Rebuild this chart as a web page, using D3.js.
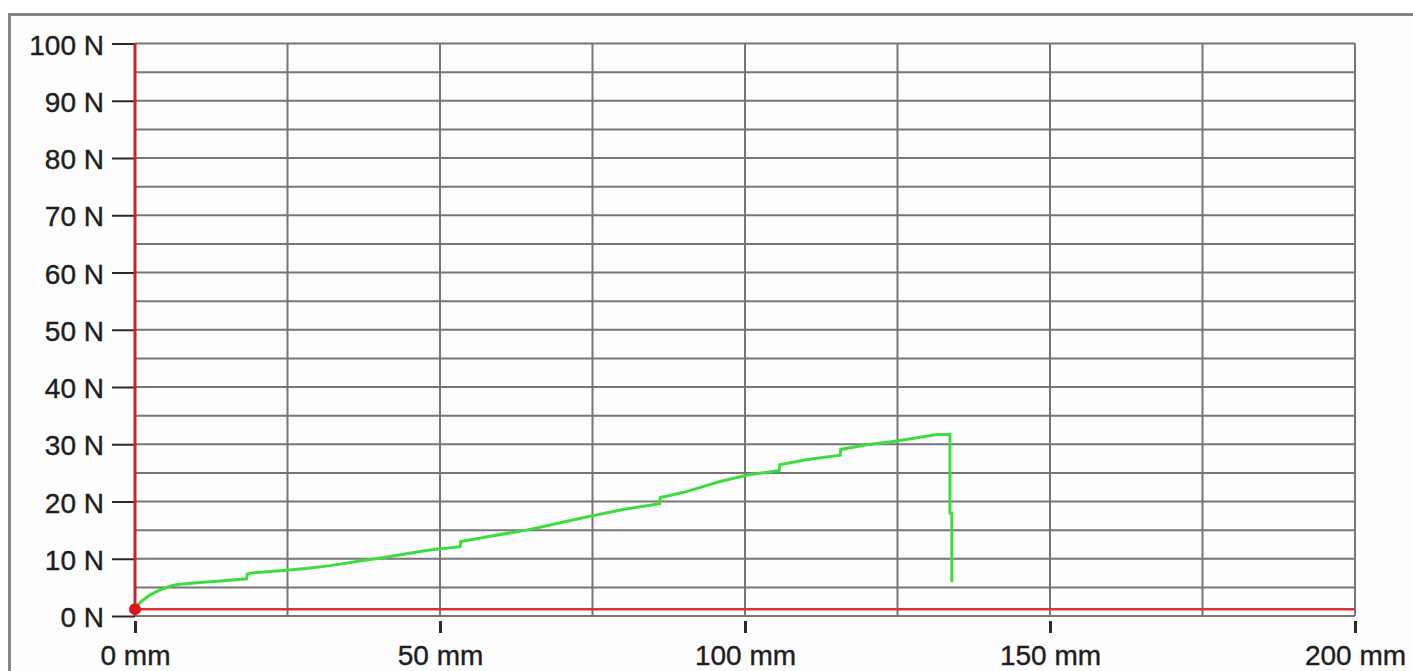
<!DOCTYPE html>
<html>
<head>
<script src="https://cdn.jsdelivr.net/npm/d3@7"></script>
<style type="text/css">
	body { margin: 0; background: #ffffff; overflow: hidden; }
	text { font-family: "Liberation Sans", Arial, sans-serif; fill: #1e1e1e; }
</style>
</head>
<body>
<script>

// force vs. travel readings (mm, N)
var distance = [0, 1, 2.5, 4, 5.7, 7, 10.1, 14, 18.3, 18.4, 19.1, 24.8, 28, 32, 37.4, 40, 44, 48,
	53.3, 53.4, 58, 64.2, 69, 74, 80, 86, 86.1, 90, 95.9, 100.8, 105.6, 105.7, 110, 115.6, 115.7,
	120, 124.3, 128, 131.4, 133.6, 133.6, 133.9, 133.9];
var force = [1.3, 2.5, 3.7, 4.5, 5.2, 5.5, 5.8, 6.1, 6.5, 7.3, 7.5, 8.0, 8.3, 8.8, 9.7, 10.1, 10.8, 11.5,
	12.1, 13.0, 13.9, 15.0, 16.1, 17.3, 18.6, 19.6, 20.7, 21.6, 23.5, 24.7, 25.4, 26.4, 27.3, 28.1, 29.1,
	29.9, 30.5, 31.1, 31.7, 31.7, 18.0, 18.0, 5.9];
var baseline = 1.2;

var yTicks = [0, 10, 20, 30, 40, 50, 60, 70, 80, 90, 100];
var yGrid = d3.range(0, 101, 5);
var xTicks = [0, 50, 100, 150, 200];
var xGrid = d3.range(0, 201, 25);

var points = distance.map(function (d, i) { return [d, force[i]]; });

var canvas = d3.select("body").append("svg")
	.attr("width", 1413)
	.attr("height", 671);

// window frame
canvas.append("rect")
	.attr("x", 9.5)
	.attr("y", 14.5)
	.attr("width", 1440)
	.attr("height", 700)
	.attr("fill", "#fdfdfd")
	.attr("stroke", "#858585")
	.attr("stroke-width", 3);

var x = d3.scaleLinear().domain([0, 200]).range([135, 1355]);
var y = d3.scaleLinear().domain([0, 100]).range([616, 43.5]);

// grid
canvas.append("g").selectAll("line")
	.data(yGrid)
	.enter()
	.append("line")
	.attr("x1", x(0)).attr("x2", x(200))
	.attr("y1", function (d) { return y(d); })
	.attr("y2", function (d) { return y(d); })
	.attr("stroke", "#767676")
	.attr("stroke-width", 2);

canvas.append("g").selectAll("line")
	.data(xGrid)
	.enter()
	.append("line")
	.attr("x1", function (d) { return x(d); })
	.attr("x2", function (d) { return x(d); })
	.attr("y1", y(100)).attr("y2", y(0))
	.attr("stroke", "#767676")
	.attr("stroke-width", 2);

// axes
var yAxis = d3.axisLeft(y).tickValues(yTicks).tickSize(23).tickPadding(8)
	.tickFormat(function (d) { return d + " N"; });
var gy = canvas.append("g")
	.attr("transform", "translate(" + x(0) + ",0)")
	.call(yAxis);
gy.select(".domain").remove();
gy.selectAll("line").attr("stroke", "#2a2a2a").attr("stroke-width", 2);
gy.selectAll("text")
	.attr("font-size", 28)
	.attr("dy", "0.38em")
	.attr("fill", "#1e1e1e")
	.attr("stroke", "#1e1e1e")
	.attr("stroke-width", 0.4);

var xAxis = d3.axisBottom(x).tickValues(xTicks).tickSize(17).tickPadding(0)
	.tickFormat(function (d) { return d + " mm"; });
var gx = canvas.append("g")
	.attr("transform", "translate(0," + y(0) + ")")
	.call(xAxis);
gx.select(".domain").remove();
gx.selectAll("line").attr("y1", 5).attr("stroke", "#2a2a2a").attr("stroke-width", 3);
gx.selectAll("text")
	.attr("font-size", 28)
	.attr("y", 49)
	.attr("dy", 0)
	.attr("fill", "#1e1e1e")
	.attr("stroke", "#1e1e1e")
	.attr("stroke-width", 0.4);

// red reference lines
canvas.append("line")
	.attr("x1", x(0)).attr("x2", x(200))
	.attr("y1", y(baseline)).attr("y2", y(baseline))
	.attr("stroke", "#d6343c")
	.attr("stroke-width", 2.5);

canvas.append("line")
	.attr("x1", x(0)).attr("x2", x(0))
	.attr("y1", y(100)).attr("y2", y(0))
	.attr("stroke", "#c8262e")
	.attr("stroke-width", 3);

// measured curve
var line = d3.line()
	.x(function (d) { return x(d[0]); })
	.y(function (d) { return y(d[1]); });

canvas.append("path")
	.datum(points)
	.attr("d", line)
	.attr("fill", "none")
	.attr("stroke", "#3fdc3f")
	.attr("stroke-width", 3);

canvas.append("circle")
	.attr("cx", x(0))
	.attr("cy", y(baseline))
	.attr("r", 6)
	.attr("fill", "#e0141c");

</script>
</body>
</html>
